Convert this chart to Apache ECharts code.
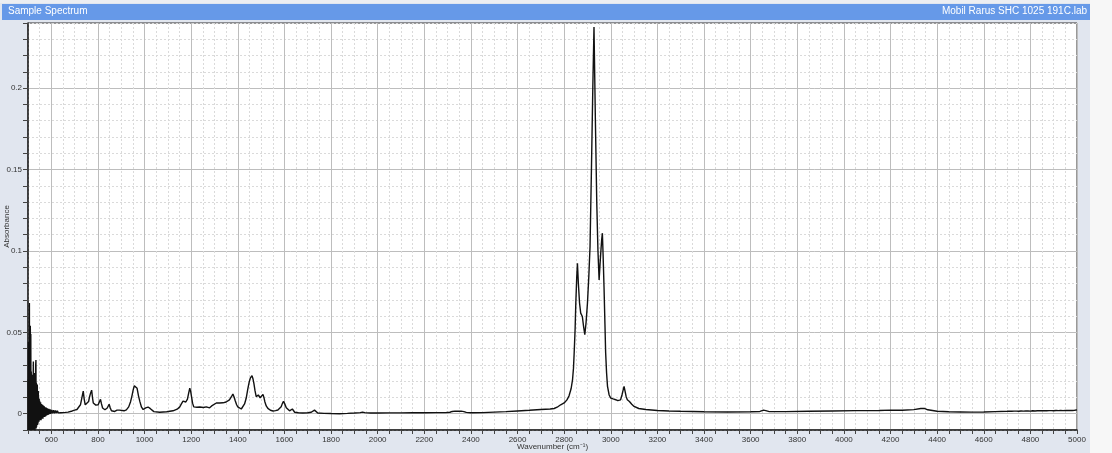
<!DOCTYPE html>
<html>
<head>
<meta charset="utf-8">
<script src="https://cdn.jsdelivr.net/npm/echarts@6/dist/echarts.min.js"></script>
<style>
html,body{margin:0;padding:0;background:#ffffff;}
#chart{width:1112px;height:453px;}
</style>
</head>
<body>
<div id="chart"></div>
<script>
// ---- data ----
const titleLeft = 'Sample Spectrum';
const titleRight = 'Mobil Rarus SHC 1025 191C.lab';
const xAxisName = 'Wavenumber (cm\u207B\u00B9)';
const yAxisName = 'Absorbance';

const wavenumbers = [
500,501,502,503,504,505,506,507,508,509,510,511,512,513,514,515,516,517,518,519,
520,521,522,523,524,525,526,527,528,529,530,531,532,533,534,535,536,537,538,539,
540,541,542,543,544,545,546,547,548,549,550,552,554,556,558,560,562,564,566,568,
570,572,574,576,578,580,583,586,589,592,595,598,602,606,610,614,618,622,626,630,
635,640,645,650,655,660,666,672,680,690,700,710,718,725,730,737,741,745.5,754,760,
763,768,773,777,780,786,791,797,801,806,811,815,820,830,840,848,853,858,872,882,
887,892,898,912,922,932,940,946,951,956,960,964,968,974,980,987,994,1000,1005,1015,
1025,1032,1040,1065,1095,1122,1140,1151,1158,1165,1171,1177,1184,1189,1194,1198,1202,1206,1211,1225,
1237,1252,1265,1272,1279,1288,1294,1308,1322,1336,1350,1358,1364,1369,1374,1379,1384,1389,1395,1400,
1408,1415,1422,1429,1436,1443,1449,1454,1458,1461,1465,1469,1474,1479,1484,1488,1492,1496,1502,1508,
1512,1516,1522,1529,1540,1551,1562,1572,1580,1586,1591,1596,1601,1608,1615,1622,1628,1634,1639,1644,
1660,1679,1700,1715,1722,1729,1736,1743,1770,1800,1836,1870,1900,1925,1935,1945,1970,2000,2050,2100,
2150,2200,2250,2290,2310,2320,2326,2332,2338,2345,2352,2358,2364,2370,2380,2400,2450,2500,2550,2600,
2650,2700,2740,2757,2770,2785,2800,2812,2821,2830,2836,2840,2843,2847,2850,2854,2857,2861,2866,2871,
2878,2883,2888.6,2894,2900,2906,2911,2917,2923,2928,2934,2940,2945,2950,2954,2957,2961,2964,2967,2971,
2975,2978,2982,2986,2993,3000,3010,3021,3030,3036,3042,3048,3053,3057,3061,3066,3071,3080,3090,3100,
3120,3150,3200,3250,3300,3400,3500,3600,3640,3655,3665,3680,3750,3850,3950,4050,4150,4200,4250,4300,
4330,4345,4360,4400,4450,4500,4550,4600,4650,4700,4710,4715,4720,4725,4730,4735,4740,4745,4750,4755,
4760,4765,4770,4775,4780,4785,4790,4795,4800,4805,4810,4815,4820,4825,4830,4835,4840,4845,4850,4855,
4860,4865,4870,4875,4880,4885,4890,4895,4900,4905,4910,4915,4920,4925,4930,4935,4940,4945,4950,4955,
4960,4965,4970,4975,4980,4985,4990,4995,5000
];

const absorbance = [
0.021,-0.010,0.044,-0.010,0.030,-0.010,0.068,-0.010,0.041,-0.010,0.054,-0.010,0.049,-0.010,0.026,-0.010,0.021,-0.010,0.016,-0.010,
0.024,-0.009,0.019,0.032,-0.010,0.020,-0.008,0.025,-0.009,0.018,-0.010,0.022,-0.008,0.030,0.033,-0.009,0.019,-0.008,0.016,-0.007,
0.018,-0.007,0.012,-0.006,0.014,-0.005,0.010,-0.005,0.009,-0.004,0.008,-0.004,0.007,-0.004,0.006,-0.003,0.0055,-0.003,0.005,-0.002,
0.0045,-0.002,0.004,-0.0015,0.0038,-0.001,0.0033,-0.0008,0.003,-0.0003,0.0027,0.0,0.0024,0.0002,0.0022,0.0003,0.002,0.0004,0.0018,0.0005,
0.0017,0.0006,0.0016,0.0007,0.0015,0.0008,0.0014,0.001,0.0014,0.0017,0.0022,0.0026,0.0035,0.0055,0.009,0.0139,0.009,0.0055,0.0052,0.0075,
0.0098,0.0125,0.0145,0.0095,0.0066,0.0055,0.0053,0.0052,0.0055,0.0072,0.0088,0.0062,0.0035,0.0024,0.0035,0.0058,0.0035,0.0018,0.0014,0.0022,
0.0031,0.0022,0.0014,0.0018,0.0024,0.0042,0.0074,0.011,0.0145,0.0172,0.018,0.0172,0.0156,0.011,0.0074,0.004,0.0026,0.0030,0.0036,0.0041,
0.0031,0.002,0.0013,0.0009,0.0012,0.0018,0.0028,0.0042,0.006,0.0077,0.0078,0.0072,0.009,0.0125,0.0157,0.0135,0.0100,0.0065,0.0042,0.004,
0.0041,0.0038,0.0042,0.0038,0.0036,0.0048,0.0058,0.0066,0.0066,0.0067,0.0072,0.0077,0.0085,0.0095,0.0108,0.0121,0.0103,0.008,0.0055,0.0042,
0.0031,0.0029,0.0038,0.006,0.0095,0.0152,0.0195,0.022,0.0232,0.0234,0.0215,0.0186,0.014,0.0105,0.0108,0.0115,0.0106,0.0098,0.0108,0.0119,
0.01,0.0074,0.0048,0.0033,0.0021,0.0017,0.0019,0.0023,0.003,0.0043,0.0062,0.0076,0.0062,0.0037,0.0025,0.0018,0.0024,0.0029,0.0018,0.0009,
0.0006,0.0004,0.0006,0.0009,0.0015,0.0022,0.0012,0.0004,0.0002,0.0001,0.0000,0.0002,0.0004,0.0007,0.0010,0.0007,0.0004,0.0004,0.0005,0.0005,
0.0006,0.0006,0.0007,0.0007,0.0009,0.0014,0.0011,0.0016,0.0012,0.0015,0.0011,0.0016,0.0012,0.0013,0.0008,0.0006,0.0007,0.001,0.0013,0.0017,
0.0021,0.0026,0.0029,0.0032,0.004,0.0055,0.0066,0.0085,0.011,0.0155,0.021,0.028,0.0374,0.052,0.068,0.084,0.0924,0.08,0.068,0.0618,
0.0597,0.054,0.0485,0.056,0.068,0.085,0.1026,0.1497,0.2008,0.2376,0.18,0.129,0.1,0.0822,0.092,0.0987,0.107,0.1109,0.098,0.078,
0.055,0.0374,0.025,0.0168,0.0115,0.0096,0.0091,0.0086,0.008,0.0076,0.0085,0.0115,0.0145,0.0168,0.014,0.0105,0.0086,0.0075,0.0058,0.0045,
0.0032,0.0026,0.002,0.0017,0.0015,0.0012,0.0011,0.0012,0.0014,0.0022,0.0019,0.0013,0.0013,0.0015,0.0017,0.0019,0.002,0.0022,0.0021,0.0025,
0.0032,0.0033,0.0024,0.0015,0.0012,0.0011,0.001,0.0011,0.0013,0.0015,0.0016,0.0020,0.0015,0.0020,0.0016,0.0021,0.0016,0.0021,0.0015,0.0022,
0.0017,0.0022,0.0016,0.0023,0.0017,0.0024,0.0017,0.0024,0.0016,0.0025,0.0018,0.0025,0.0017,0.0026,0.0018,0.0026,0.0019,0.0027,0.0018,0.0027,
0.0019,0.0028,0.0018,0.0027,0.0019,0.0028,0.0019,0.0027,0.0018,0.0028,0.0020,0.0028,0.0019,0.0029,0.0020,0.0028,0.0019,0.0029,0.0020,0.0028,
0.0020,0.0029,0.0020,0.0028,0.0020,0.0029,0.0021,0.0028,0.0024
];

// axis settings
const xMin = 500, xMax = 5000, xStep = 50;       // ticks every 50, labels every 200
const yMin = -0.01, yMax = 0.24, yStep = 0.01;   // ticks every 0.01, labels every 0.05

// ---- chart ----
const chart = echarts.init(document.getElementById('chart'), null, {renderer: 'canvas'});
const seriesData = wavenumbers.map((w, i) => [w, absorbance[i]]);
const FONT = '"Liberation Sans Narrow", "Liberation Sans", Arial, sans-serif';
const minorColor = '#dadada';
const majorColor = '#bdbdbd';
const clear = 'rgba(0,0,0,0)';

const option = {
  animation: false,
  backgroundColor: '#e1e6ef',
  textStyle: {fontFamily: FONT},
  graphic: [
    {type: 'rect', left: 0, top: 0, shape: {width: 1112, height: 3}, style: {fill: '#eceef2'}, silent: true},
    {type: 'rect', left: 1090, top: 0, shape: {width: 22, height: 453}, style: {fill: '#f7f7f7'}, silent: true},
    {type: 'rect', left: 2, top: 4, shape: {width: 1088, height: 16}, style: {fill: '#6699e8'}, silent: true},
    {type: 'text', left: 8, top: 6, style: {text: titleLeft, fill: '#ffffff', font: '10px ' + FONT}, silent: true},
    {type: 'text', right: 1112 - 1087, top: 6, style: {text: titleRight, fill: '#ffffff', font: '10px ' + FONT, textAlign: 'right'}, silent: true}
  ],
  grid: {
    left: 28, right: 35, top: 23, bottom: 23,
    containLabel: false, outerBoundsMode: 'none',
    show: true, backgroundColor: '#ffffff', borderColor: '#333333', borderWidth: 1
  },
  xAxis: [
    {
      type: 'value', min: xMin, max: xMax, interval: xStep,
      name: xAxisName, nameLocation: 'middle', nameGap: 13, nameMoveOverlap: false,
      nameTextStyle: {fontSize: 8, color: '#333', fontFamily: FONT},
      axisLine: {show: true, onZero: false, lineStyle: {color: '#222', width: 1.5}},
      axisTick: {show: true, length: 4, lineStyle: {color: '#444'}},
      axisLabel: {
        interval: 0, margin: 6, fontSize: 8, color: '#333', fontFamily: FONT,
        formatter: v => (Math.round(v) % 200 === 0 && v >= 600) ? String(Math.round(v)) : ''
      },
      splitLine: {show: true, lineStyle: {color: [minorColor, minorColor, clear, minorColor], type: [2, 2], width: 1}}
    },
    {
      type: 'value', min: xMin, max: xMax, interval: xStep, position: 'bottom',
      axisLine: {show: false}, axisTick: {show: false}, axisLabel: {show: false},
      splitLine: {show: true, lineStyle: {color: [clear, clear, majorColor, clear], type: 'solid', width: 1}}
    }
  ],
  yAxis: [
    {
      type: 'value', min: yMin, max: yMax, interval: yStep,
      name: yAxisName, nameLocation: 'middle', nameGap: 17, nameMoveOverlap: false,
      nameTextStyle: {fontSize: 8, color: '#333', fontFamily: FONT},
      axisLine: {show: true, onZero: false, lineStyle: {color: '#222', width: 1.5}},
      axisTick: {show: true, length: 5, lineStyle: {color: '#444'}},
      axisLabel: {
        interval: 0, margin: 6, fontSize: 8, color: '#333', fontFamily: FONT,
        formatter: v => { const k = Math.round(v * 100); return (k >= 0 && k <= 20 && k % 5 === 0) ? String(k / 100) : ''; }
      },
      splitLine: {show: true, lineStyle: {color: [minorColor, clear, minorColor, minorColor, minorColor], type: [2, 2], width: 1}}
    },
    {
      type: 'value', min: yMin, max: yMax, interval: yStep, position: 'left',
      axisLine: {show: false}, axisTick: {show: false}, axisLabel: {show: false},
      splitLine: {show: true, lineStyle: {color: [clear, majorColor, clear, clear, clear], type: 'solid', width: 1}}
    }
  ],
  series: [{
    type: 'line', xAxisIndex: 0, yAxisIndex: 0,
    data: seriesData, showSymbol: false, symbol: 'none',
    sampling: null, smooth: false, clip: true,
    lineStyle: {color: '#111111', width: 1.4},
    z: 5
  }]
};
chart.setOption(option);
</script>
</body>
</html>
